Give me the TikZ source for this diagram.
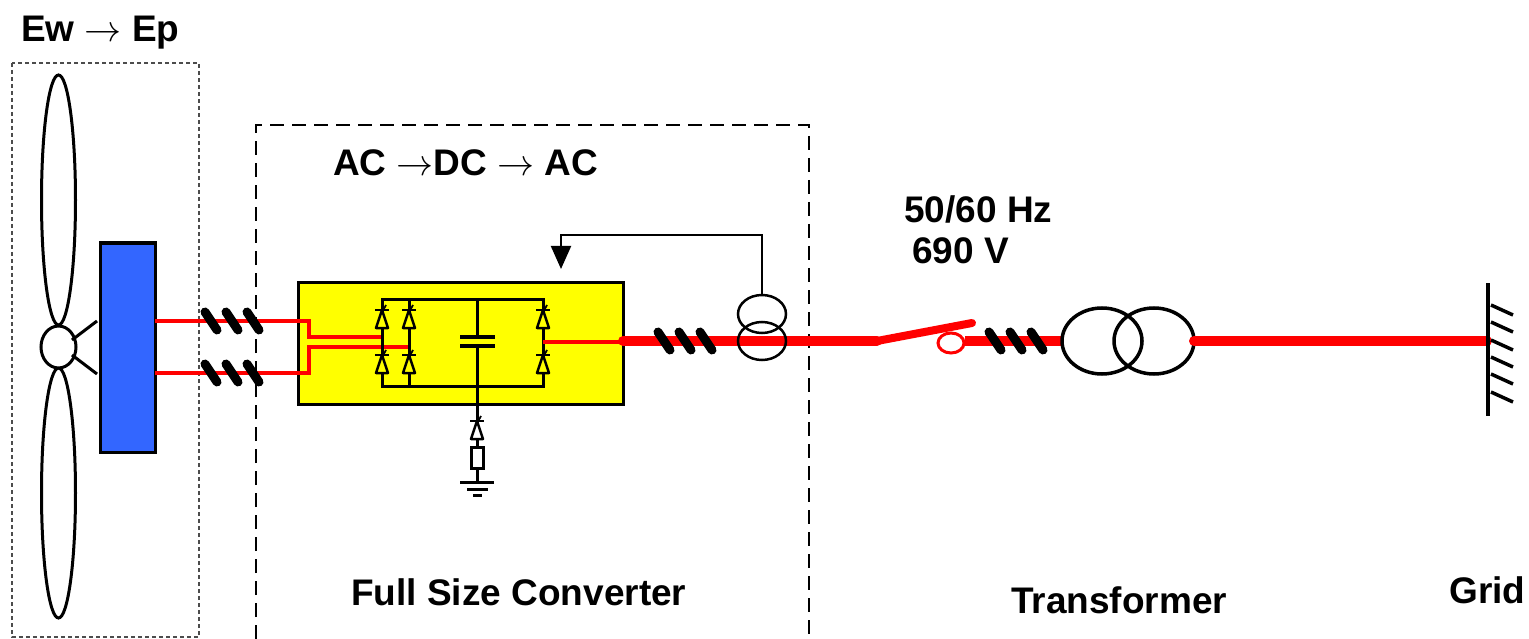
\RequirePackage{fix-cm}
\documentclass[tikz,border=0pt]{standalone}
\usepackage{fontspec}
\setmainfont{Liberation Sans}
\usetikzlibrary{arrows.meta}
\definecolor{genblue}{HTML}{3366FF}
\definecolor{convyellow}{HTML}{FFFF00}
\definecolor{wirered}{HTML}{FF0000}
\tikzset{
  lbl/.style={anchor=base west,inner sep=0pt,font=\fontsize{37}{44}\selectfont\bfseries},
  blk/.style={draw=black,line width=3pt},
  redthin/.style={draw=wirered,line width=3.5pt},
  redthick/.style={draw=wirered,line width=10pt},
  coilmark/.style={draw=black,line width=9pt,line cap=round},
  thindash/.style={draw=black!70,line width=1.3pt,dash pattern=on 4pt off 3pt},
  bigdash/.style={draw=black,line width=2.5pt,dash pattern=on 14pt off 8pt},
}
% diode: centre x, centre y, fill colour
\newcommand\mydiode[3]{%
  \filldraw[fill=#3,draw=black,line width=2.5pt,line join=round] (#1-6,#2+10) -- (#1+6,#2+10) -- (#1,#2-8) -- cycle;
  \draw[black,line width=2.5pt] (#1-7,#2-8) -- (#1+7,#2-8);
  \draw[black,line width=1.8pt] (#1-1,#2-4) -- (#1+4,#2-13);
}
% three slanted coil marks starting at x on a line at y
\newcommand\coils[2]{%
  \foreach \dx in {0,21,42} {\draw[coilmark] (#1+\dx,#2-9) -- (#1+\dx+12,#2+9);}
}
\begin{document}
\begin{tikzpicture}[x=1pt,y=-1pt]
\useasboundingbox (0,0) rectangle (1529,639);
\fill[white] (0,0) rectangle (1529,639);

% ---- texts
\node[lbl] (tEw) at (21,42) {Ew $\rightarrow$ Ep};
\node[lbl] (tAC) at (333,176) {AC $\rightarrow$DC $\rightarrow$ AC};
\node[lbl] (tHz) at (904,223) {50/60 Hz};
\node[lbl] (tV) at (912,263) {690 V};
\node[lbl] (tFSC) at (351,605) {Full Size Converter};
\node[lbl] (tTr) at (1011,613) {Transformer};
\node[lbl] (tGrid) at (1449,603) {Grid};

% ---- frames
\draw[thindash] (12,63) rectangle (199,637);
\draw[bigdash] (256,639) -- (256,125) -- (809,125) -- (809,639);

% ---- turbine
\draw[blk] (58.5,200) ellipse [x radius=17, y radius=125];
\draw[blk] (58.5,493) ellipse [x radius=17, y radius=125];
\draw[blk,fill=white] (58.5,347) ellipse [x radius=17.5, y radius=21];
\draw[blk] (72,340) -- (97,321);
\draw[blk] (72,355) -- (97,374);
\node[draw=black,line width=3.5pt,fill=genblue,minimum width=55pt,minimum height=209pt,inner sep=0pt,anchor=north west] (gen) at (98.5,241.5) {};

% ---- converter box
\node[draw=black,line width=3.5pt,fill=convyellow,minimum width=325pt,minimum height=122pt,inner sep=0pt,anchor=north west] (conv) at (296.5,280.5) {};

% generator to converter wires
\draw[redthin,line join=miter] (155,321) -- (309,321) -- (309,337) -- (382,337);
\draw[redthin,line join=miter] (155,373) -- (309,373) -- (309,347) -- (409,347);
\coils{205}{321}
\coils{205}{373}

% bridge
\draw[blk] (382,299) rectangle (543,386);
\draw[blk] (409,299) -- (409,386);
\draw[blk] (477,299) -- (477,337);
\draw[blk] (477,346) -- (477,447);
\draw[black,line width=3.5pt] (460,337) -- (495,337);
\draw[black,line width=3.5pt] (460,346) -- (495,346);
\mydiode{382}{318}{convyellow}
\mydiode{382}{363}{convyellow}
\mydiode{409}{318}{convyellow}
\mydiode{409}{363}{convyellow}
\mydiode{543}{318}{convyellow}
\mydiode{543}{363}{convyellow}
% crowbar branch
\mydiode{477}{429}{white}
\draw[blk,fill=white] (471,447) rectangle (483,468);
\draw[blk] (477,468) -- (477,482);
\draw[blk] (460,482) -- (494,482);
\draw[blk] (467,489) -- (488,489);
\draw[blk] (473,495) -- (482,495);

% converter output
\draw[redthin] (543,342) -- (623,342);
\draw[redthick,line cap=round] (623,341) -- (877,341);
\coils{658}{341}

% current transformer and feedback
\draw[black,line width=2.5pt] (762,314) ellipse [x radius=24, y radius=19];
\draw[black,line width=2.5pt] (762,341) ellipse [x radius=24, y radius=19];
\coordinate (fbtop) at (762,295);
\coordinate (fbtip) at (561,269);
\draw[black,line width=2pt,-{Triangle[length=23pt,width=20pt]}] (fbtop) -- (762,235) -- (561,235) -- (fbtip);

% breaker
\draw[draw=wirered,line width=8pt,line cap=round] (877,341) -- (972,323);
\draw[draw=wirered,line width=3pt,fill=white] (951,343) ellipse [x radius=13, y radius=10];
\draw[redthick] (965,341) -- (1063,341);
\coils{989}{341}

% main transformer
\draw[black,line width=3.5pt] (1102,341) ellipse [x radius=40, y radius=33];
\draw[black,line width=3.5pt] (1154,341) ellipse [x radius=40, y radius=33];
\draw[redthick,line cap=round] (1194,341) -- (1487,341);

% grid
\draw[black,line width=3.5pt] (1488,283) -- (1488,416);
\foreach \hy in {305,322,340,357,374,392} {\draw[black,line width=3.5pt] (1491,\hy) -- (1513,\hy+10);}
\end{tikzpicture}
\end{document}
